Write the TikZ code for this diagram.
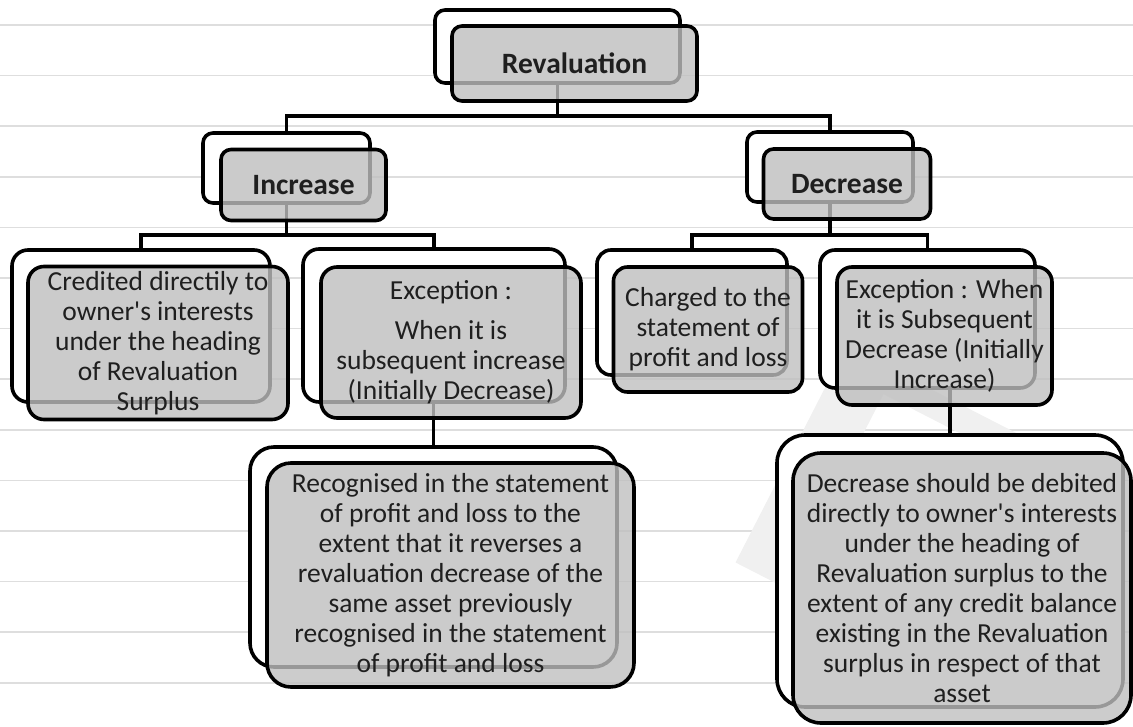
\documentclass[tikz,border=0pt]{standalone}
\usepackage{fontspec}
\defaultfontfeatures[\rmfamily]{}
\setmainfont{Carlito}
\usetikzlibrary{calc}

\begin{document}
\begin{tikzpicture}[x=1pt,y=-1pt,
        ruled/.style={black!13, line width=1.5pt},
        backbox/.style={draw, line width=3.6pt, fill=white, rounded corners=#1, inner sep=0pt},
        frontbox/.style={draw, line width=3.6pt, fill=black!25, fill opacity=0.8, text opacity=1,
            rounded corners=#1, inner sep=0pt, align=center, text=black!88,
            font=\fontsize{27.5}{30}\selectfont},
        titlebox/.style={frontbox=10, font=\fontsize{29.5}{32}\selectfont\bfseries},
        link/.style={line width=3.6pt}]
        \useasboundingbox (0,0) rectangle (1133,726);
        % Draw ruled paper lines
        \foreach \k in {0,...,13} \draw[ruled] (0,{25+50.6*\k}) -- (1133,{25+50.6*\k});
        % Faint watermark
        \draw[black!6, line width=55pt] (760,575) -- (865,370);
        \draw[black!6, line width=26pt] (865,370) -- (1060,470);
        % Back boxes
        \node[backbox=10, minimum width=245pt, minimum height=73pt] (revB) at (557.5,46.5) {};
        \node[backbox=10, minimum width=167pt, minimum height=70pt] (incB) at (286.5,168) {};
        \node[backbox=10, minimum width=166pt, minimum height=70pt] (decB) at (830,167) {};
        \node[backbox=16, minimum width=258pt, minimum height=152pt] (credB) at (141,326) {};
        \node[backbox=16, minimum width=262pt, minimum height=153pt] (exclB) at (434,325.5) {};
        \node[backbox=14, minimum width=190pt, minimum height=125pt] (chrgB) at (692,312.5) {};
        \node[backbox=15, minimum width=215pt, minimum height=138pt] (excrB) at (927.5,319) {};
        \node[backbox=24, minimum width=367pt, minimum height=220pt] (recB) at (433.5,557) {};
        \node[backbox=28, minimum width=346pt, minimum height=272pt] (debB) at (950,571) {};
        % Connectors
        \coordinate (bus0) at (0,116);
        \coordinate (bus1) at (0,235);
        \draw[link] (revB.south) -- (revB.south |- bus0);
        \draw[link] (incB.north) |- (decB.north |- bus0) -- (decB.north);
        \draw[link] (incB.south) -- (incB.south |- bus1);
        \draw[link] (credB.north) |- (exclB.north |- bus1) -- (exclB.north);
        \draw[link] (decB.south) -- (decB.south |- bus1);
        \draw[link] (chrgB.north) |- (excrB.north |- bus1) -- (excrB.north);
        \draw[link] (recB.north) -- (recB.north |- exclB.south);
        \draw[link] (debB.north) -- (debB.north |- excrB.south);
        % Front boxes
        \node[titlebox, minimum width=245pt, minimum height=75pt] (rev) at ($(revB)+(17,17)$) {Revaluation};
        \node[titlebox, minimum width=165pt, minimum height=71pt] (inc) at ($(incB)+(17,17)$) {Increase};
        \node[titlebox, minimum width=167pt, minimum height=70pt] (dec) at ($(decB)+(17,17)$) {Decrease};
        \node[frontbox=16, minimum width=260pt, minimum height=153pt] (cred) at ($(credB)+(17,17)$)
            {Credited directily to\\ owner's interests\\ under the heading\\ of Revaluation\\ Surplus};
        \node[frontbox=16, minimum width=260pt, minimum height=151pt] (excl) at ($(exclB)+(17,17)$)
            {Exception :\\[10pt] When it is\\ subsequent increase\\ (Initially Decrease)};
        \node[frontbox=14, minimum width=189pt, minimum height=125pt] (chrg) at ($(chrgB)+(16,17)$)
            {Charged to the\\ statement of\\ profit and loss};
        \node[frontbox=15, minimum width=215pt, minimum height=138pt] (excr) at ($(excrB)+(17,17)$)
            {Exception : When\\ it is Subsequent\\ Decrease (Initially\\ Increase)};
        \node[frontbox=24, minimum width=367pt, minimum height=224pt] (rec) at ($(recB)+(17,18)$)
            {Recognised in the statement\\ of profit and loss to the\\ extent that it reverses a\\ revaluation decrease of the\\ same asset previously\\ recognised in the statement\\ of profit and loss};
        \node[frontbox=28, minimum width=338pt, minimum height=270pt] (deb) at ($(debB)+(12,17)$)
            {Decrease should be debited\\ directly to owner's interests\\ under the heading of\\ Revaluation surplus to the\\ extent of any credit balance\\ existing in the Revaluation\\ surplus in respect of that\\ asset};
\end{tikzpicture}
\end{document}
